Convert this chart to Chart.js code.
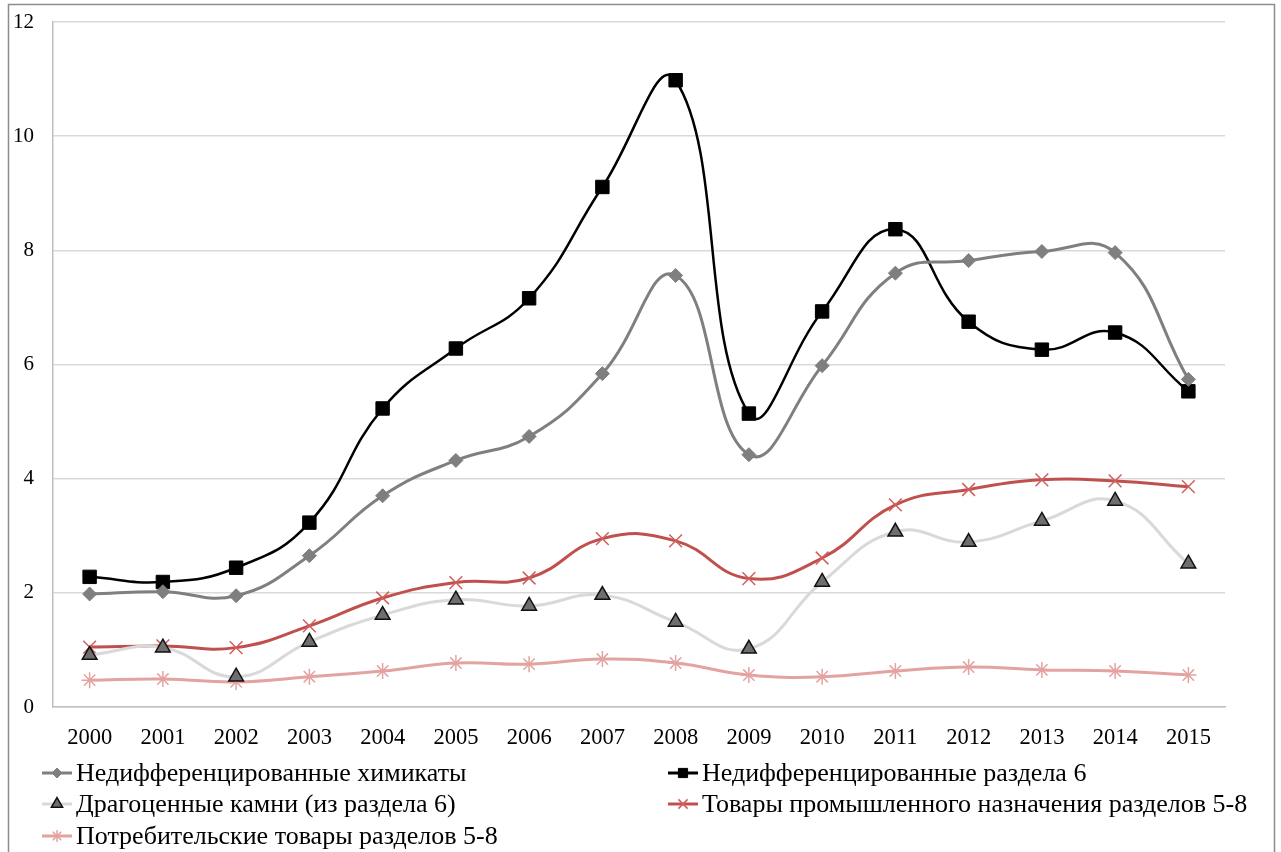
<!DOCTYPE html>
<html>
<head>
<meta charset="utf-8">
<script src="https://cdn.jsdelivr.net/npm/chart.js@4/dist/chart.umd.min.js"></script>
<style>
  html, body { margin: 0; padding: 0; background: #fff; }
  canvas { display: block; }
</style>
</head>
<body>
<canvas id="LineChart" width="1281" height="852"></canvas>
<script>
const years = ['2000', '2001', '2002', '2003', '2004', '2005', '2006', '2007',
    '2008', '2009', '2010', '2011', '2012', '2013', '2014', '2015'];

const chemicals_data = [1.98, 2.02, 1.95, 2.65, 3.70, 4.32, 4.74, 5.84, 7.56, 4.42, 5.98, 7.60, 7.82, 7.98, 7.96, 5.74];
const section6_data = [2.28, 2.19, 2.44, 3.23, 5.23, 6.28, 7.16, 9.11, 10.98, 5.14, 6.93, 8.37, 6.75, 6.26, 6.56, 5.53];
const stones_data = [0.91, 1.04, 0.53, 1.14, 1.61, 1.88, 1.77, 1.96, 1.49, 1.02, 2.19, 3.07, 2.89, 3.26, 3.61, 2.51];
const industrial_data = [1.05, 1.07, 1.04, 1.42, 1.91, 2.18, 2.26, 2.95, 2.91, 2.25, 2.61, 3.54, 3.81, 3.98, 3.96, 3.86];
const consumer_data = [0.47, 0.49, 0.44, 0.53, 0.63, 0.77, 0.75, 0.84, 0.77, 0.56, 0.53, 0.63, 0.70, 0.65, 0.63, 0.56];

const y_ticks = [0, 2, 4, 6, 8, 10, 12];

const FONT = '"Liberation Serif", "Times New Roman", serif';

const line_data = {
    labels: years,
    datasets: [{
        label: 'Недифференцированные химикаты',
        data: chemicals_data,
        borderColor: '#7f7f7f',
        borderWidth: 3,
        pointStyle: 'rectRot',
        pointRadius: 7,
        pointBackgroundColor: '#7f7f7f',
        pointBorderColor: '#7f7f7f',
        pointBorderWidth: 1
    }, {
        label: 'Недифференцированные раздела 6',
        data: section6_data,
        borderColor: '#000000',
        borderWidth: 2.5,
        pointStyle: 'rect',
        pointRadius: 9.5,
        pointBackgroundColor: '#000000',
        pointBorderColor: '#000000',
        pointBorderWidth: 1
    }, {
        label: 'Драгоценные камни (из раздела 6)',
        data: stones_data,
        borderColor: '#d9d9d9',
        borderWidth: 3,
        pointStyle: 'triangle',
        pointRadius: 8.5,
        pointBackgroundColor: '#6e6e6e',
        pointBorderColor: '#111111',
        pointBorderWidth: 1.5
    }, {
        label: 'Товары промышленного назначения разделов 5-8',
        data: industrial_data,
        borderColor: '#c0504d',
        borderWidth: 3,
        pointStyle: 'crossRot',
        pointRadius: 9,
        pointBackgroundColor: '#c0504d',
        pointBorderColor: '#d0605d',
        pointBorderWidth: 1.5
    }, {
        label: 'Потребительские товары разделов 5-8',
        data: consumer_data,
        borderColor: '#e3a3a1',
        borderWidth: 3,
        pointStyle: 'star',
        pointRadius: 8,
        pointBackgroundColor: '#e3a3a1',
        pointBorderColor: '#e3a3a1',
        pointBorderWidth: 1.5
    }]
};

// legend drawn by hand: two columns, line + marker like the original
const legendPlugin = {
    id: 'sketchLegend',
    afterDraw(chart) {
        const ctx = chart.ctx;
        const cols = [42, 668];
        const rows = [773, 804, 836];
        ctx.save();
        chart.data.datasets.forEach((ds, i) => {
            const x = cols[i % 2];
            const y = rows[Math.floor(i / 2)];
            ctx.strokeStyle = ds.borderColor;
            ctx.lineWidth = 3;
            ctx.beginPath();
            ctx.moveTo(x, y);
            ctx.lineTo(x + 30, y);
            ctx.stroke();
            ctx.fillStyle = ds.pointBackgroundColor;
            ctx.strokeStyle = ds.pointBorderColor;
            ctx.lineWidth = ds.pointBorderWidth;
            Chart.helpers.drawPoint(ctx, {
                pointStyle: ds.pointStyle,
                radius: Math.min(ds.pointRadius - 2, 6.5),
                rotation: 0,
                borderWidth: ds.pointBorderWidth
            }, x + 15, y);
            ctx.fillStyle = '#000';
            ctx.font = '26px ' + FONT;
            ctx.textBaseline = 'middle';
            ctx.textAlign = 'left';
            ctx.fillText(ds.label, x + 34, y + 1);
        });
        ctx.restore();
    }
};

const framePlugin = {
    id: 'frame',
    afterDraw(chart) {
        const ctx = chart.ctx;
        ctx.save();
        ctx.strokeStyle = '#8c8c8c';
        ctx.lineWidth = 1.5;
        ctx.strokeRect(8.5, 4.5, 1266, 860);
        ctx.restore();
    }
};

const configLine = {
    type: 'line',
    data: line_data,
    options: {
        responsive: false,
        animation: false,
        layout: {
            padding: { top: 22, right: 56, left: 0, bottom: 0 }
        },
        elements: {
            line: { tension: 0.45, fill: false }
        },
        plugins: {
            legend: { display: false },
            tooltip: { enabled: false }
        },
        scales: {
            x: {
                offset: true,
                grid: { display: false },
                border: { display: true, color: '#bfbfbf', width: 1.5 },
                ticks: {
                    color: '#000',
                    font: { family: FONT, size: 22.5 },
                    padding: 10
                },
                afterFit(scale) { scale.height = 145; }
            },
            y: {
                min: 0,
                max: 12,
                afterBuildTicks(scale) {
                    scale.ticks = y_ticks.map(v => ({ value: v }));
                },
                grid: { color: '#d9d9d9', lineWidth: 1.5, drawTicks: false },
                border: { display: true, color: '#bfbfbf', width: 1.5 },
                ticks: {
                    color: '#000',
                    font: { family: FONT, size: 21 },
                    padding: 19
                },
                afterFit(scale) {
                    scale.width = 53;
                    scale.paddingTop = 0;
                }
            }
        }
    },
    plugins: [legendPlugin, framePlugin]
};

const LineChart = new Chart(
    document.getElementById('LineChart'),
    configLine
);
</script>
</body>
</html>
